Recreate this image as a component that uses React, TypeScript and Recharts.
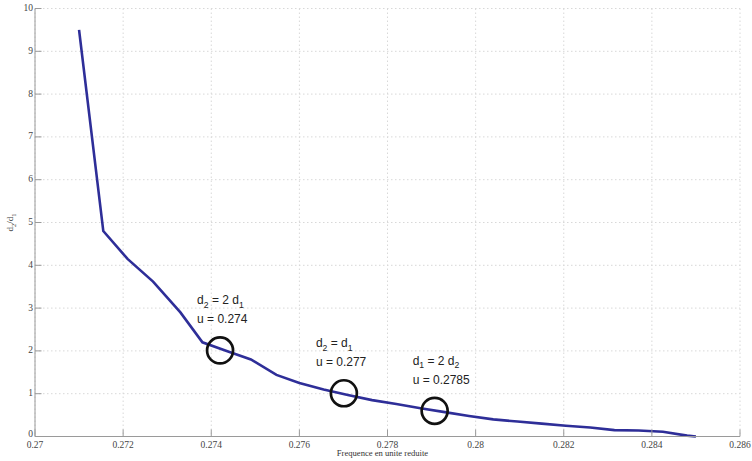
import React from 'react';
import { ComposedChart, Line, Scatter, XAxis, YAxis, CartesianGrid } from 'recharts';

// reduced frequency u vs ratio d2/d1
const freq = [
  0.271, 0.27155, 0.2721, 0.27268, 0.2733, 0.2738, 0.27435, 0.2749, 0.27548, 0.276,
  0.27655, 0.2771, 0.27765, 0.2782, 0.27875, 0.2793, 0.27985, 0.2804, 0.28095, 0.2815,
  0.28205, 0.2826, 0.28315, 0.2837, 0.28425, 0.2848, 0.285,
];
const ratio = [
  9.5, 4.8, 4.15, 3.62, 2.9, 2.2, 2.0, 1.8, 1.44, 1.25,
  1.1, 0.97, 0.85, 0.76, 0.66, 0.57, 0.48, 0.4, 0.35, 0.3,
  0.25, 0.21, 0.15, 0.14, 0.11, 0.02, 0,
];

const xTicks = [0.27, 0.272, 0.274, 0.276, 0.278, 0.28, 0.282, 0.284, 0.286];
const yTicks = [0, 1, 2, 3, 4, 5, 6, 7, 8, 9, 10];

// circled points and their notes ("_" marks a subscript char)
const markX = [0.2742, 0.27701, 0.27907];
const markY = [2.01, 1.01, 0.6];
const markEq = ['d_2 = 2 d_1', 'd_2 = d_1', 'd_1 = 2 d_2'];
const markU = ['u = 0.274', 'u = 0.277', 'u = 0.2785'];

const LABEL_DX = [-23, -28, -22];

const curve = freq.map((x, i) => ({ x, y: ratio[i] }));
const marks = markX.map((x, i) => ({ x, y: markY[i], eq: markEq[i], u: markU[i], dx: LABEL_DX[i] }));

const TICK_FONT = '"Liberation Serif", "DejaVu Serif", serif';
const NOTE_FONT = '"Liberation Sans", Arial, sans-serif';

function subText(s: string, sub: number) {
  const out: React.ReactNode[] = [];
  let shifted = false;
  let buf = '';
  let k = 0;
  for (let i = 0; i < s.length; i++) {
    if (s[i] === '_' && i + 1 < s.length) {
      if (buf) out.push(<tspan key={k++} dy={shifted ? -sub : 0}>{buf}</tspan>);
      if (buf) shifted = false;
      out.push(<tspan key={k++} dy={shifted ? 0 : sub} fontSize="0.72em">{s[i + 1]}</tspan>);
      shifted = true;
      buf = '';
      i++;
    } else {
      buf += s[i];
    }
  }
  if (buf) out.push(<tspan key={k++} dy={shifted ? -sub : 0}>{buf}</tspan>);
  return out;
}

const XTick = (p: any) => {
  const { x, y, payload } = p;
  return (
    <g>
      <line x1={x} x2={x} y1={y} y2={y - 7} stroke="#9a9a9a" />
      <text x={x} y={y + 11} textAnchor="middle" fontFamily={TICK_FONT} fontSize={9.5} fill="#444">
        {String(payload.value)}
      </text>
    </g>
  );
};

const YTick = (p: any) => {
  const { x, y, payload } = p;
  // the 0 label sits just above the first x label, as in the source
  const dy = payload.value === 0 ? 0.5 : 2.5;
  return (
    <g>
      <line x1={x} x2={x + 6.5} y1={y} y2={y} stroke="#9a9a9a" />
      <text x={x - 2} y={y + dy} textAnchor="end" fontFamily={TICK_FONT} fontSize={9.5} fill="#444">
        {String(payload.value)}
      </text>
    </g>
  );
};

const MarkShape = (p: any) => {
  const { cx, cy, payload } = p;
  const tx = cx + payload.dx;
  return (
    <g>
      <circle cx={cx} cy={cy} r={13} fill="none" stroke="#111" strokeWidth={2.7} />
      <text x={tx} y={cy - 46} fontFamily={NOTE_FONT} fontSize={12} fill="#222">
        {subText(payload.eq, 3.5)}
      </text>
      <text x={tx} y={cy - 27} fontFamily={NOTE_FONT} fontSize={12} fill="#222">
        {payload.u}
      </text>
    </g>
  );
};

export default function App() {
  return (
    <div style={{ position: 'absolute', left: 0, top: 0, width: 752, height: 461, background: '#fff' }}>
      <ComposedChart width={752} height={461} margin={{ top: 8.5, right: 12, bottom: 0, left: 0 }}>
        <CartesianGrid stroke="#d8d8d8" strokeDasharray="1.5 2.5" horizontalValues={yTicks} verticalValues={xTicks} />
        <XAxis
          dataKey="x"
          type="number"
          domain={[0.27, 0.286]}
          ticks={xTicks}
          interval={0}
          tickSize={0}
          tickMargin={0}
          tickLine={false}
          axisLine={{ stroke: '#9a9a9a' }}
          tick={<XTick />}
          height={24.5}
          label={{
            content: (lp: any) => {
              const vb = lp.viewBox || {};
              return (
                <text x={vb.x + vb.width / 2 - 5} y={vb.y + 19.5} textAnchor="middle" fontFamily={TICK_FONT} fontSize={8.6} fill="#333">
                  Frequence en unite reduite
                </text>
              );
            },
          }}
        />
        <YAxis
          dataKey="y"
          type="number"
          domain={[0, 10]}
          ticks={yTicks}
          interval={0}
          width={35}
          tickSize={0}
          tickMargin={0}
          tickLine={false}
          axisLine={{ stroke: '#9a9a9a' }}
          tick={<YTick />}
          label={{
            content: (lp: any) => {
              const vb = lp.viewBox || {};
              const cy = vb.y + vb.height / 2;
              return (
                <text x={13} y={cy} transform={`rotate(-90, 13, ${cy})`} textAnchor="middle" fontFamily={TICK_FONT} fontSize={9} fill="#333">
                  {subText('d_2/d_1', 2.5)}
                </text>
              );
            },
          }}
        />
        <Line
          data={curve}
          dataKey="y"
          type="linear"
          stroke="#2e2e98"
          strokeWidth={2.6}
          dot={false}
          activeDot={false}
          isAnimationActive={false}
        />
        <Scatter data={marks} dataKey="y" shape={<MarkShape />} isAnimationActive={false} />
      </ComposedChart>
    </div>
  );
}
